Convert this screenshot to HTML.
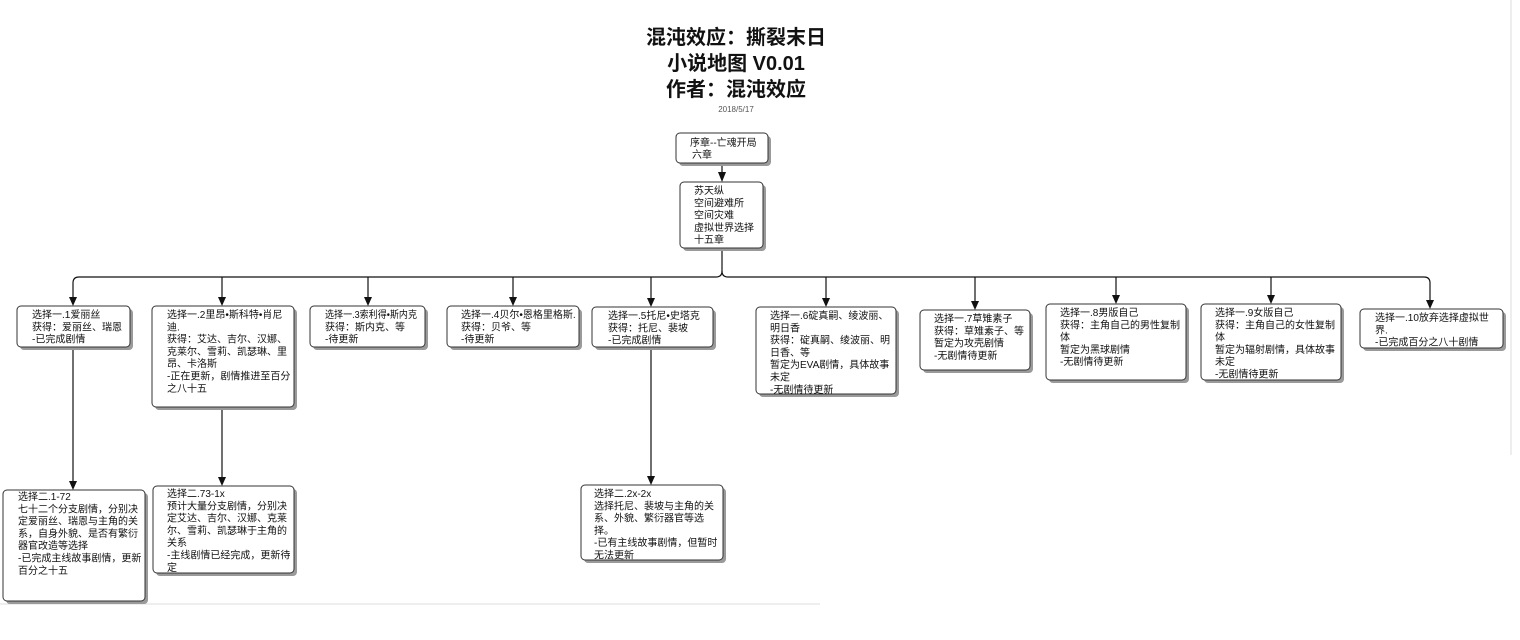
<!DOCTYPE html>
<html><head><meta charset="utf-8"><style>
html,body{margin:0;padding:0;background:#fff;}
svg{display:block;}
text{font-family:"Liberation Sans","Noto Sans CJK SC",sans-serif;fill:#111;}
.t{font-size:10px;}
.box{fill:#fff;stroke:#333;stroke-width:1;}
.sh{fill:#9a9a9a;}
.ln{stroke:#111;stroke-width:1.2;fill:none;}
.ar{fill:#111;}
</style></head><body>
<svg width="1520" height="640" viewBox="0 0 1520 640" xmlns="http://www.w3.org/2000/svg">
<line x1="1511" y1="0" x2="1511" y2="455" stroke="#ddd"/>
<line x1="0" y1="604" x2="820" y2="604" stroke="#ddd"/>
<text x="736" y="44" text-anchor="middle" font-size="20" font-weight="bold">混沌效应：撕裂末日</text>
<text x="736" y="70" text-anchor="middle" font-size="20" font-weight="bold">小说地图 V0.01</text>
<text x="736" y="96" text-anchor="middle" font-size="20" font-weight="bold">作者：混沌效应</text>
<text x="736" y="112" text-anchor="middle" font-size="8" style="fill:#555">2018/5/17</text>

<!-- connectors -->
<line class="ln" x1="722" y1="163" x2="722" y2="176"/>
<path class="ln" d="M722 248 V271 Q722 277 716 277 H79 Q73 277 73 283 V300"/>
<path class="ln" d="M722 271 Q722 277 728 277 H1424 Q1430 277 1430 283 V302"/>
<g class="ln">
<path d="M222 277 V300"/><path d="M368 277 V300"/><path d="M513 277 V300"/><path d="M651 277 V300"/>
<path d="M826 277 V300"/><path d="M975 277 V303"/><path d="M1116 277 V297"/><path d="M1271 277 V297"/>
<path d="M73 347 V484"/><path d="M222 407 V480"/><path d="M651 347 V479"/>
</g>
<g class="ar">
<polygon points="718,172 726,172 722,182"/>
<polygon points="69,297 77,297 73,306"/>
<polygon points="218,297 226,297 222,306"/>
<polygon points="364,297 372,297 368,306"/>
<polygon points="509,297 517,297 513,306"/>
<polygon points="647,298 655,298 651,307"/>
<polygon points="822,298 830,298 826,307"/>
<polygon points="971,301 979,301 975,310"/>
<polygon points="1112,295 1120,295 1116,304"/>
<polygon points="1267,295 1275,295 1271,304"/>
<polygon points="1426,300 1434,300 1430,309"/>
<polygon points="69,481 77,481 73,490"/>
<polygon points="218,477 226,477 222,486"/>
<polygon points="647,476 655,476 651,485"/>
</g>

<g>
<rect class="sh" x="679" y="136" width="92" height="30" rx="4"/><rect class="box" x="676" y="133" width="92" height="30" rx="4"/>
<text class="t" x="690" y="146">序章--亡魂开局</text><text class="t" x="692" y="158">六章</text>

<rect class="sh" x="683" y="185" width="83" height="66" rx="4"/><rect class="box" x="680" y="182" width="83" height="66" rx="4"/>
<text class="t" y="194"><tspan x="694">苏天纵</tspan><tspan x="694" dy="12.3">空间避难所</tspan><tspan x="694" dy="12.3">空间灾难</tspan><tspan x="694" dy="12.3">虚拟世界选择</tspan><tspan x="694" dy="12.3">十五章</tspan></text>

<rect class="sh" x="20" y="309" width="113" height="41" rx="4"/><rect class="box" x="17" y="306" width="113" height="41" rx="4"/>
<text class="t" y="318"><tspan x="32">选择一.1爱丽丝</tspan><tspan x="32" dy="12.3">获得：爱丽丝、瑞恩</tspan><tspan x="32" dy="12.3">-已完成剧情</tspan></text>

<rect class="sh" x="155" y="309" width="142" height="101" rx="4"/><rect class="box" x="152" y="306" width="142" height="101" rx="4"/>
<text class="t" y="318"><tspan x="167">选择一.2里昂•斯科特•肖尼</tspan><tspan x="167" dy="12.3">迪.</tspan><tspan x="167" dy="12.3">获得：艾达、吉尔、汉娜、</tspan><tspan x="167" dy="12.3">克莱尔、雪莉、凯瑟琳、里</tspan><tspan x="167" dy="12.3">昂、卡洛斯</tspan><tspan x="167" dy="12.3">-正在更新，剧情推进至百分</tspan><tspan x="167" dy="12.3">之八十五</tspan></text>

<rect class="sh" x="313" y="309" width="115" height="41" rx="4"/><rect class="box" x="310" y="306" width="115" height="41" rx="4"/>
<text class="t" y="318"><tspan x="325" textLength="92" lengthAdjust="spacingAndGlyphs">选择一.3索利得•斯内克</tspan><tspan x="325" dy="12.3">获得：斯内克、等</tspan><tspan x="325" dy="12.3">-待更新</tspan></text>

<rect class="sh" x="450" y="309" width="132" height="41" rx="4"/><rect class="box" x="447" y="306" width="132" height="41" rx="4"/>
<text class="t" y="318"><tspan x="461">选择一.4贝尔•恩格里格斯.</tspan><tspan x="461" dy="12.3">获得：贝爷、等</tspan><tspan x="461" dy="12.3">-待更新</tspan></text>

<rect class="sh" x="595" y="310" width="121" height="40" rx="4"/><rect class="box" x="592" y="307" width="121" height="40" rx="4"/>
<text class="t" y="319"><tspan x="608">选择一.5托尼•史塔克</tspan><tspan x="608" dy="12.3">获得：托尼、裴坡</tspan><tspan x="608" dy="12.3">-已完成剧情</tspan></text>

<rect class="sh" x="759" y="310" width="140" height="87" rx="4"/><rect class="box" x="756" y="307" width="140" height="87" rx="4"/>
<text class="t" y="319"><tspan x="770">选择一.6碇真嗣、绫波丽、</tspan><tspan x="770" dy="12.3">明日香</tspan><tspan x="770" dy="12.3">获得：碇真嗣、绫波丽、明</tspan><tspan x="770" dy="12.3">日香、等</tspan><tspan x="770" dy="12.3">暂定为EVA剧情，具体故事</tspan><tspan x="770" dy="12.3">未定</tspan><tspan x="770" dy="12.3">-无剧情待更新</tspan></text>

<rect class="sh" x="923" y="313" width="110" height="60" rx="4"/><rect class="box" x="920" y="310" width="110" height="60" rx="4"/>
<text class="t" y="322"><tspan x="934">选择一.7草雉素子</tspan><tspan x="934" dy="12.3">获得：草雉素子、等</tspan><tspan x="934" dy="12.3">暂定为攻壳剧情</tspan><tspan x="934" dy="12.3">-无剧情待更新</tspan></text>

<rect class="sh" x="1049" y="307" width="140" height="76" rx="4"/><rect class="box" x="1046" y="304" width="140" height="76" rx="4"/>
<text class="t" y="316"><tspan x="1060">选择一.8男版自己</tspan><tspan x="1060" dy="12.3">获得：主角自己的男性复制</tspan><tspan x="1060" dy="12.3">体</tspan><tspan x="1060" dy="12.3">暂定为黑球剧情</tspan><tspan x="1060" dy="12.3">-无剧情待更新</tspan></text>

<rect class="sh" x="1204" y="307" width="140" height="76" rx="4"/><rect class="box" x="1201" y="304" width="140" height="76" rx="4"/>
<text class="t" y="316"><tspan x="1215">选择一.9女版自己</tspan><tspan x="1215" dy="12.3">获得：主角自己的女性复制</tspan><tspan x="1215" dy="12.3">体</tspan><tspan x="1215" dy="12.3">暂定为辐射剧情，具体故事</tspan><tspan x="1215" dy="12.3">未定</tspan><tspan x="1215" dy="12.3">-无剧情待更新</tspan></text>

<rect class="sh" x="1363" y="312" width="143" height="39" rx="4"/><rect class="box" x="1360" y="309" width="143" height="39" rx="4"/>
<text class="t" y="321"><tspan x="1375">选择一.10放弃选择虚拟世</tspan><tspan x="1375" dy="12.3">界.</tspan><tspan x="1375" dy="12.3">-已完成百分之八十剧情</tspan></text>

<rect class="sh" x="6" y="493" width="142" height="111" rx="4"/><rect class="box" x="3" y="490" width="142" height="111" rx="4"/>
<text class="t" y="500"><tspan x="18">选择二.1-72</tspan><tspan x="18" dy="12.3">七十二个分支剧情，分别决</tspan><tspan x="18" dy="12.3">定爱丽丝、瑞恩与主角的关</tspan><tspan x="18" dy="12.3">系，自身外貌、是否有繁衍</tspan><tspan x="18" dy="12.3">器官改造等选择</tspan><tspan x="18" dy="12.3">-已完成主线故事剧情，更新</tspan><tspan x="18" dy="12.3">百分之十五</tspan></text>

<rect class="sh" x="156" y="489" width="141" height="87" rx="4"/><rect class="box" x="153" y="486" width="141" height="87" rx="4"/>
<text class="t" y="497"><tspan x="167">选择二.73-1x</tspan><tspan x="167" dy="12.3">预计大量分支剧情，分别决</tspan><tspan x="167" dy="12.3">定艾达、吉尔、汉娜、克莱</tspan><tspan x="167" dy="12.3">尔、雪莉、凯瑟琳于主角的</tspan><tspan x="167" dy="12.3">关系</tspan><tspan x="167" dy="12.3">-主线剧情已经完成，更新待</tspan><tspan x="167" dy="12.3">定</tspan></text>

<rect class="sh" x="584" y="488" width="142" height="75" rx="4"/><rect class="box" x="581" y="485" width="142" height="75" rx="4"/>
<text class="t" y="497"><tspan x="594">选择二.2x-2x</tspan><tspan x="594" dy="12.3">选择托尼、裴坡与主角的关</tspan><tspan x="594" dy="12.3">系、外貌、繁衍器官等选</tspan><tspan x="594" dy="12.3">择。</tspan><tspan x="594" dy="12.3">-已有主线故事剧情，但暂时</tspan><tspan x="594" dy="12.3">无法更新</tspan></text>
</g>
</svg>
</body></html>
